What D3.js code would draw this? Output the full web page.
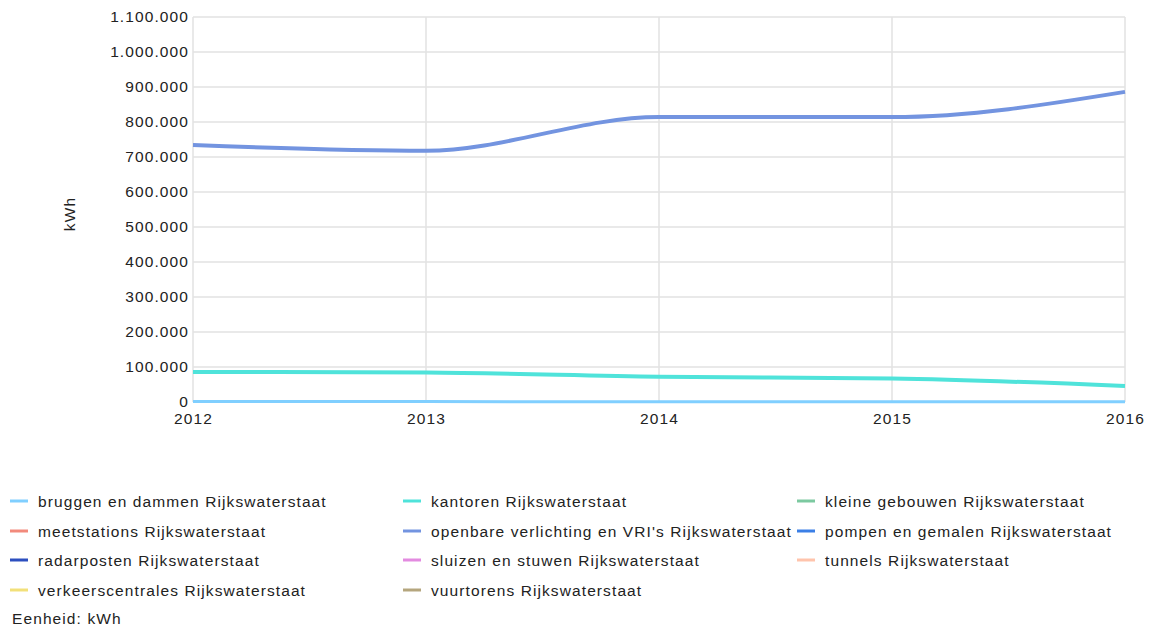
<!DOCTYPE html>
<html>
<head>
<meta charset="utf-8">
<script src="https://cdn.jsdelivr.net/npm/d3@7"></script>
<style>
  html, body { margin: 0; padding: 0; background: #fff; }
  svg { display: block; font-family: "Liberation Sans", Arial, sans-serif; }
  svg text { letter-spacing: 1.1px; }
</style>
</head>
<body>
<svg id="chart" width="1150" height="630"></svg>
<script>
// Energy use per category (kWh), 2012–2016
const years = [2012, 2013, 2014, 2015, 2016];
const yTicks = [0, 100000, 200000, 300000, 400000, 500000, 600000, 700000, 800000, 900000, 1000000, 1100000];

const seriesNames = [
  "bruggen en dammen Rijkswaterstaat",
  "kantoren Rijkswaterstaat",
  "kleine gebouwen Rijkswaterstaat",
  "meetstations Rijkswaterstaat",
  "openbare verlichting en VRI's Rijkswaterstaat",
  "pompen en gemalen Rijkswaterstaat",
  "radarposten Rijkswaterstaat",
  "sluizen en stuwen Rijkswaterstaat",
  "tunnels Rijkswaterstaat",
  "verkeerscentrales Rijkswaterstaat",
  "vuurtorens Rijkswaterstaat"
];
const seriesColors = [
  "#80cfff", "#4fe3da", "#7cc9a0", "#f28a7c", "#7394e0", "#3b7fe6",
  "#2c4fbf", "#e38be0", "#ffc4ac", "#f2e07a", "#b5a67e"
];

const bruggen = [1200, 1100, 1000, 1000, 900];
const kantoren = [86000, 84000, 72000, 67000, 46000];
const kleineGebouwen = [null, null, null, null, null];
const meetstations = [null, null, null, null, null];
const openbareVerlichting = [734000, 718000, 814000, 814000, 886000];
const pompen = [null, null, null, null, null];
const radarposten = [null, null, null, null, null];
const sluizen = [null, null, null, null, null];
const tunnels = [null, null, null, null, null];
const verkeerscentrales = [null, null, null, null, null];
const vuurtorens = [null, null, null, null, null];

const seriesValues = [bruggen, kantoren, kleineGebouwen, meetstations, openbareVerlichting,
  pompen, radarposten, sluizen, tunnels, verkeerscentrales, vuurtorens];

const svg = d3.select("#chart");
const plotLeft = 193, plotRight = 1125, plotTop = 17, plotBottom = 402;
const fontSize = 15.5;

const x = d3.scaleLinear().domain([2012, 2016]).range([plotLeft, plotRight]);
const y = d3.scaleLinear().domain([0, 1100000]).range([plotBottom, plotTop]);

const fmt = d => d3.format(",")(d).replace(/,/g, ".");

// horizontal grid
svg.append("g")
  .selectAll("line").data(yTicks).join("line")
  .attr("x1", plotLeft).attr("x2", plotRight)
  .attr("y1", d => y(d)).attr("y2", d => y(d))
  .attr("stroke", "#e2e2e2").attr("stroke-width", 1.5);

// vertical grid
svg.append("g")
  .selectAll("line").data(years).join("line")
  .attr("x1", d => x(d)).attr("x2", d => x(d))
  .attr("y1", plotTop).attr("y2", plotBottom)
  .attr("stroke", "#e2e2e2").attr("stroke-width", 1.5);

// y axis labels
const yAxis = svg.append("g")
  .attr("transform", `translate(${plotLeft},0)`)
  .call(d3.axisLeft(y).tickValues(yTicks).tickFormat(fmt).tickSize(0).tickPadding(4));
yAxis.select(".domain").remove();
yAxis.selectAll("text")
  .attr("font-family", "Liberation Sans, Arial, sans-serif")
  .attr("font-size", fontSize).attr("fill", "#222");

// x axis labels
const xAxis = svg.append("g")
  .attr("transform", `translate(0,${plotBottom})`)
  .call(d3.axisBottom(x).tickValues(years).tickFormat(d3.format("d")).tickSize(0).tickPadding(11));
xAxis.select(".domain").remove();
xAxis.selectAll("text")
  .attr("font-family", "Liberation Sans, Arial, sans-serif")
  .attr("font-size", fontSize).attr("fill", "#222");

// y axis title
svg.append("text")
  .attr("transform", "translate(75,214) rotate(-90)")
  .attr("text-anchor", "middle")
  .attr("font-size", fontSize).attr("fill", "#222")
  .text("kWh");

// series lines
const line = d3.line()
  .defined(d => d.v !== null)
  .x(d => x(d.year)).y(d => y(d.v))
  .curve(d3.curveMonotoneX);

const widths = [3, 4, 3, 3, 4, 3, 3, 3, 3, 3, 3];
seriesValues.forEach((vals, i) => {
  const pts = years.map((yr, j) => ({ year: yr, v: vals[j] }));
  if (pts.every(p => p.v === null)) return;
  svg.append("path")
    .datum(pts)
    .attr("fill", "none")
    .attr("stroke", seriesColors[i])
    .attr("stroke-width", widths[i])
    .attr("d", line);
});

// legend
const colX = [10, 403, 797];
const rowY = [501, 531, 560, 590];
const legend = svg.append("g");
seriesNames.forEach((name, i) => {
  const cx = colX[i % 3], cy = rowY[Math.floor(i / 3)];
  legend.append("line")
    .attr("x1", cx).attr("x2", cx + 18)
    .attr("y1", cy).attr("y2", cy)
    .attr("stroke", seriesColors[i]).attr("stroke-width", 3);
  legend.append("text")
    .attr("x", cx + 28).attr("y", cy + 5.5)
    .attr("font-size", fontSize).attr("fill", "#222")
    .text(name);
});

svg.append("text")
  .attr("x", 12).attr("y", 624)
  .attr("font-size", fontSize).attr("fill", "#222")
  .text("Eenheid: kWh");
</script>
</body>
</html>
